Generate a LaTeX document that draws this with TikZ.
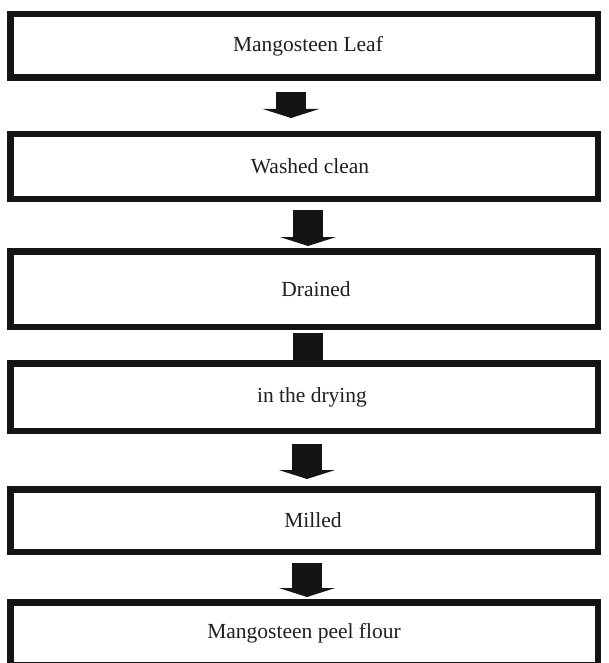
\documentclass[tikz,border=0pt]{standalone}
\usepackage{fontspec}
\setmainfont{Liberation Serif}
\usepackage{tikz}
\usetikzlibrary{positioning,arrows.meta,backgrounds}

\begin{document}
\begin{tikzpicture}[x=1pt, y=-1pt,
    stepbox/.style={draw=black!92, fill=white, line width=6.5pt, minimum width=587.5pt,
        font=\fontsize{21.5}{25}\selectfont, text=black!88},
    flowarrow/.style={line width=30pt, draw=black!92, -{Triangle[width=56pt, length=9pt]}}
]

    % Page frame
    \useasboundingbox (0, 0) rectangle (608, 663);

    % Process steps
    \node[stepbox, minimum height=63.5pt] (leaf) at (304, 46) {\hspace*{8pt}Mangosteen Leaf};
    \node[stepbox, minimum height=64.5pt] (wash) at (304, 166.5) {\hspace*{12pt}Washed clean};
    \node[stepbox, minimum height=75.5pt] (drain) at (304, 289) {\hspace*{24pt}Drained};
    \node[stepbox, minimum height=67.5pt] (dry) at (304, 397) {\hspace*{16pt}in the drying};
    \node[stepbox, minimum height=62.5pt] (mill) at (304, 520.5) {\hspace*{18pt}Milled};
    \node[stepbox, minimum height=62.5pt] (flour) at (304, 633.5) {Mangosteen peel flour};

    % Block arrows between the steps
    \begin{scope}[on background layer]
        \draw[flowarrow] ([xshift=-13pt, yshift=-11pt]leaf.south) -- ([xshift=-13pt, yshift=13pt]wash.north);
        \draw[flowarrow] ([xshift=4pt, yshift=-8pt]wash.south) -- ([xshift=4pt, yshift=2pt]drain.north);
        \draw[flowarrow] ([xshift=4pt, yshift=-3pt]drain.south) -- ([xshift=4pt, yshift=-9pt]dry.north);
        \draw[flowarrow] ([xshift=3pt, yshift=-10pt]dry.south) -- ([xshift=3pt, yshift=7pt]mill.north);
        \draw[flowarrow] ([xshift=3pt, yshift=-8pt]mill.south) -- ([xshift=3pt, yshift=2pt]flour.north);
    \end{scope}

\end{tikzpicture}
\end{document}
